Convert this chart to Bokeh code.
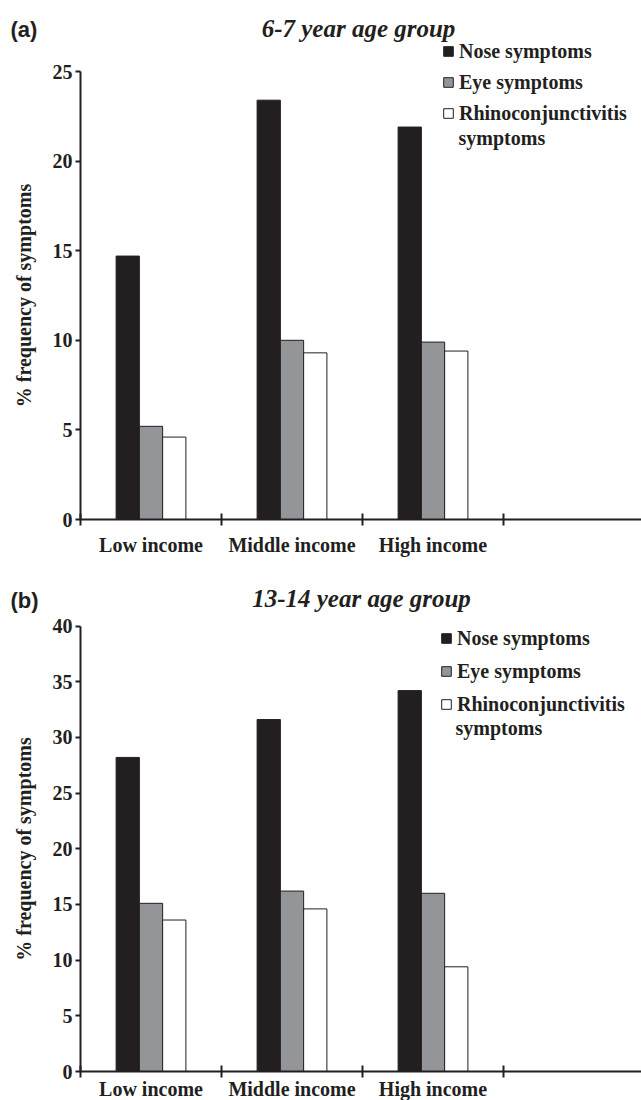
from bokeh.plotting import figure
from bokeh.models import (Range1d, LinearAxis, FixedTicker, Legend, LegendItem,
                          Label, ColumnDataSource)
from bokeh.layouts import column
from bokeh.embed import file_html
from bokeh.resources import INLINE

# ---------------- data ----------------
categories = ["Low income", "Middle income", "High income"]
series_names = ["Nose symptoms", "Eye symptoms", "Rhinoconjunctivitis symptoms"]

a_nose = [14.7, 23.4, 21.9]
a_eye = [5.2, 10.0, 9.9]
a_rhino = [4.6, 9.3, 9.4]

b_nose = [28.2, 31.6, 34.2]
b_eye = [15.1, 16.2, 16.0]
b_rhino = [13.6, 14.6, 9.4]

y_ticks_a = [0, 5, 10, 15, 20, 25]
y_ticks_b = [0, 5, 10, 15, 20, 25, 30, 35, 40]

panel_tags = ["(a)", "(b)"]
panel_titles = ["6-7 year age group", "13-14 year age group"]
y_label = "% frequency of symptoms"

# ---------------- style / layout ----------------
INK = "#231f20"
FILLS = [INK, "#939598", "#ffffff"]
SERIF = "Liberation Serif"
SANS = "Liberation Sans"
BAR_W = 0.165
FS = "20px"
W = 641
AXIS_X = 80      # pixel position of the y axis
SLOT = 141       # pixel width of one category slot


def make_panel(tag, title, series, y_ticks, height, zero_px, top_px, lab_standoff,
               legend_loc, legend_spacing, title_xy, tag_xy, sym_xy):
    n = len(categories)
    y_top = y_ticks[-1]
    ppu = (zero_px - top_px) / y_top
    y_start = -(height - zero_px) / ppu
    y_end = y_top + top_px / ppu
    x_start = -AXIS_X / SLOT
    x_end = (W - AXIS_X) / SLOT
    p = figure(width=W, height=height, output_backend="svg", toolbar_location=None,
               x_range=Range1d(x_start, x_end), y_range=Range1d(y_start, y_end),
               min_border_left=0, min_border_right=0, min_border_top=0,
               min_border_bottom=0, x_axis_type=None, y_axis_type=None)
    p.outline_line_color = None
    p.background_fill_color = "white"
    p.border_fill_color = "white"

    # y axis pinned at x = 0
    yax = LinearAxis(ticker=FixedTicker(ticks=y_ticks), axis_label=y_label,
                     fixed_location=0, bounds=(0, y_top))
    yax.axis_line_color = INK
    yax.axis_line_width = 2
    yax.major_tick_line_color = INK
    yax.major_tick_line_width = 2
    yax.major_tick_in = 0
    yax.major_tick_out = 5
    yax.minor_tick_line_color = None
    yax.major_label_standoff = 3
    yax.major_label_text_font = SERIF
    yax.major_label_text_font_style = "bold"
    yax.major_label_text_font_size = FS
    yax.major_label_text_color = INK
    yax.axis_label_text_font = SERIF
    yax.axis_label_text_font_style = "bold"
    yax.axis_label_text_font_size = FS
    yax.axis_label_text_color = INK
    yax.axis_label_standoff = 15
    p.add_layout(yax, "left")

    # x axis pinned at y = 0: labels at slot centres, ticks at slot boundaries
    xax = LinearAxis(ticker=FixedTicker(ticks=[i + 0.5 for i in range(n)],
                                        minor_ticks=list(range(n + 1))),
                     major_label_overrides={i + 0.5: c for i, c in enumerate(categories)},
                     fixed_location=0, bounds=(0, x_end))
    xax.axis_line_color = INK
    xax.axis_line_width = 2
    xax.major_tick_line_color = None
    xax.major_tick_in = 0
    xax.major_tick_out = 6
    xax.minor_tick_line_color = INK
    xax.minor_tick_line_width = 2
    xax.minor_tick_in = 6
    xax.minor_tick_out = 6
    xax.major_label_standoff = lab_standoff
    xax.major_label_text_font = SERIF
    xax.major_label_text_font_style = "bold"
    xax.major_label_text_font_size = FS
    xax.major_label_text_color = INK
    p.add_layout(xax, "below")

    renderers = []
    for k, vals in enumerate(series):
        src = ColumnDataSource(dict(x=[i + 0.5 + (k - 1) * BAR_W for i in range(n)], top=vals))
        r = p.vbar(x="x", top="top", bottom=0, width=BAR_W, source=src,
                   fill_color=FILLS[k], line_color=INK, line_width=1)
        renderers.append(r)

    legend_first = [series_names[0], series_names[1], series_names[2].split(" ", 1)[0]]
    legend_second = series_names[2].split(" ", 1)[1]
    leg = Legend(items=[LegendItem(label=t, renderers=[r]) for t, r in zip(legend_first, renderers)],
                 location=legend_loc, glyph_width=12, glyph_height=12, label_standoff=5,
                 label_text_font=SERIF, label_text_font_style="bold", label_text_font_size=FS,
                 label_text_color=INK, label_height=20, spacing=legend_spacing,
                 padding=0, margin=0, border_line_color=None, background_fill_alpha=0)
    p.add_layout(leg, "center")

    p.add_layout(Label(x=sym_xy[0], y=sym_xy[1], x_units="canvas", y_units="canvas",
                       text=legend_second, text_font=SERIF, text_font_style="bold",
                       text_font_size=FS, text_color=INK, text_baseline="middle"))
    p.add_layout(Label(x=tag_xy[0], y=tag_xy[1], x_units="canvas", y_units="canvas",
                       text=tag, text_font=SANS, text_font_style="bold",
                       text_font_size="22px", text_color=INK, text_baseline="alphabetic"))
    p.add_layout(Label(x=title_xy[0], y=title_xy[1], x_units="canvas", y_units="canvas",
                       text=title, text_font=SERIF, text_font_style="bold italic",
                       text_font_size="25px", text_color=INK, text_baseline="alphabetic",
                       text_align="center"))
    return p


pa = make_panel(panel_tags[0], panel_titles[0], [a_nose, a_eye, a_rhino], y_ticks_a,
                height=563, zero_px=519, top_px=71, lab_standoff=8,
                legend_loc=(442, 438.5), legend_spacing=8,
                title_xy=(358, 28), tag_xy=(10, 29), sym_xy=(458, 137))
pb = make_panel(panel_tags[1], panel_titles[1], [b_nose, b_eye, b_rhino], y_ticks_b,
                height=537, zero_px=508, top_px=62.5, lab_standoff=0,
                legend_loc=(440, 384.5), legend_spacing=10,
                title_xy=(361, 35), tag_xy=(10, 37), sym_xy=(455, 164))

layout = column(pa, pb, spacing=0)
open("out.html", "w").write(file_html(layout, INLINE))
